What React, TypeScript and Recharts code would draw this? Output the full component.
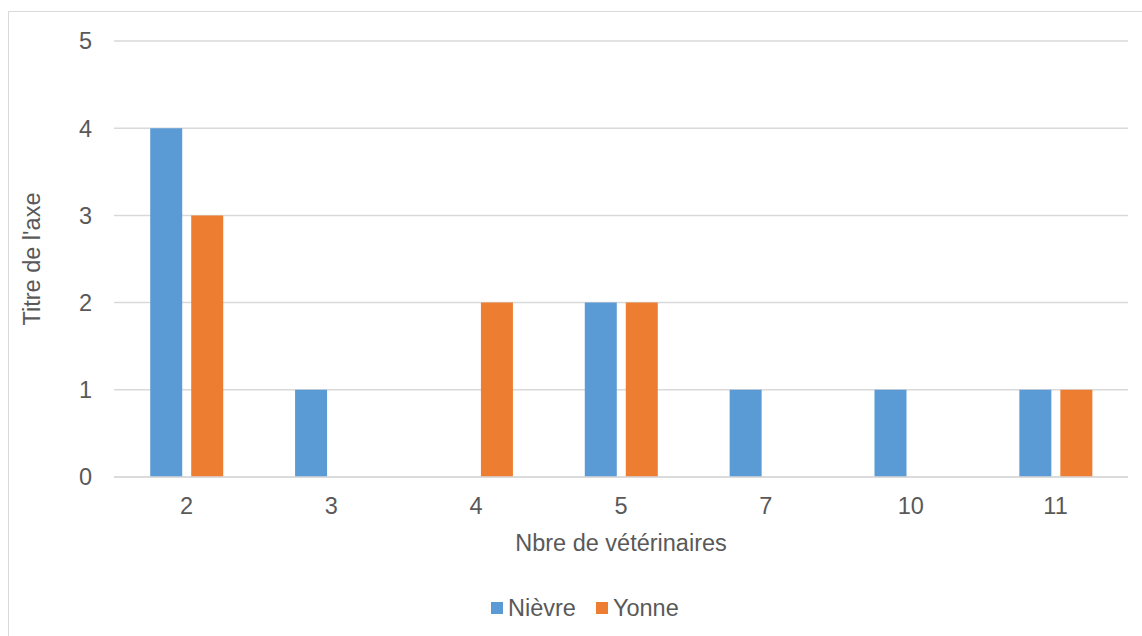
import { BarChart, Bar, XAxis, YAxis, CartesianGrid, Label } from "recharts";

const categories = ["2", "3", "4", "5", "7", "10", "11"];
const nievre = [4, 1, 0, 2, 1, 1, 1];
const yonne = [3, 0, 2, 2, 0, 0, 1];
const yTicks = [0, 1, 2, 3, 4, 5];

const series = [
  { key: "nievre", name: "Nièvre", color: "#5B9BD5" },
  { key: "yonne", name: "Yonne", color: "#ED7D31" },
];

const data = categories.map((c, i) => ({ cat: c, nievre: nievre[i], yonne: yonne[i] }));

const font = "'Liberation Sans', Arial, sans-serif";
const textColor = "#595959";
const fs = 23.5;

export default function App() {
  return (
    <div
      style={{
        position: "absolute",
        left: 0,
        top: 0,
        width: 1142,
        height: 636,
        overflow: "hidden",
        background: "#fff",
        fontFamily: font,
      }}
    >
      {/* chart frame, runs off the right and bottom edge */}
      <div
        style={{
          position: "absolute",
          left: 8,
          top: 11,
          width: 1160,
          height: 660,
          border: "1.5px solid #D9D9D9",
          boxSizing: "border-box",
        }}
      />
      <div style={{ position: "absolute", left: 0, top: 0 }}>
        <BarChart
          width={1142}
          height={636}
          data={data}
          margin={{ top: 41, right: 14, bottom: 129, left: 54 }}
          barCategoryGap="25%"
          barGap={9}
        >
          <CartesianGrid vertical={false} stroke="#D9D9D9" strokeWidth={1.5} />
          <XAxis
            dataKey="cat"
            height={30}
            axisLine={{ stroke: "#D9D9D9", strokeWidth: 1.5 }}
            tickLine={false}
            tickSize={10}
            tickMargin={10}
            tick={{ fill: textColor, fontSize: fs, fontFamily: font }}
          >
            <Label
              value="Nbre de vétérinaires"
              position="bottom"
              offset={27}
              style={{ fill: textColor, fontSize: fs, fontFamily: font }}
            />
          </XAxis>
          <YAxis
            width={60}
            domain={[0, 5]}
            ticks={yTicks}
            axisLine={false}
            tickLine={false}
            tickSize={0}
            tickMargin={22}
            tick={{ fill: textColor, fontSize: fs, fontFamily: font }}
          >
            <Label
              value="Titre de l'axe"
              angle={-90}
              position="insideLeft"
              offset={-22}
              style={{ fill: textColor, fontSize: fs, fontFamily: font, textAnchor: "middle" }}
            />
          </YAxis>
          {series.map((s) => (
            <Bar key={s.key} dataKey={s.key} name={s.name} fill={s.color} isAnimationActive={false} />
          ))}
        </BarChart>
      </div>
      {/* legend */}
      <div
        style={{
          position: "absolute",
          left: 491,
          top: 594,
          display: "flex",
          alignItems: "center",
          fontSize: fs,
          color: textColor,
          lineHeight: "28px",
        }}
      >
        {series.map((s, i) => (
          <div key={s.key} style={{ display: "flex", alignItems: "center", marginRight: i === 0 ? 20 : 0 }}>
            <span style={{ width: 12, height: 12, background: s.color, marginRight: 5, display: "inline-block" }} />
            <span>{s.name}</span>
          </div>
        ))}
      </div>
    </div>
  );
}
